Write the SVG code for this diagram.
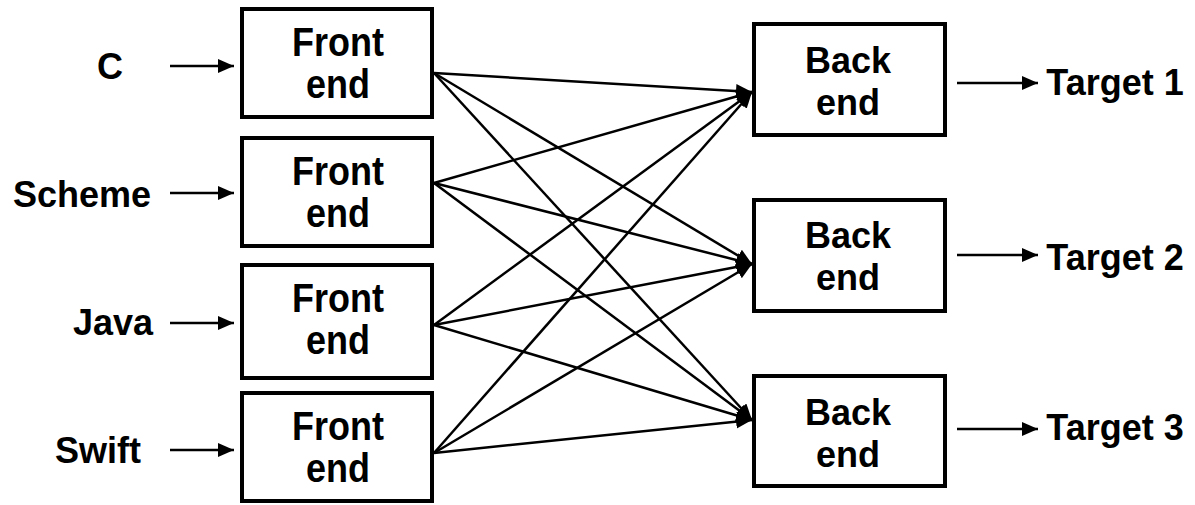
<svg xmlns="http://www.w3.org/2000/svg" width="1195" height="505" viewBox="0 0 1195 505">
<style>
.box{fill:#fff;stroke:#000;stroke-width:4}
.t{font-family:"Liberation Sans",Arial,sans-serif;font-weight:bold;font-size:36px;fill:#000;text-anchor:middle}
.bt{font-family:"Liberation Sans",Arial,sans-serif;font-weight:bold;font-size:36px;fill:#000;text-anchor:middle;transform-box:fill-box;transform-origin:center;transform:scaleY(1.12)}
.c{stroke:#000;stroke-width:2.5;fill:none}
</style>
<defs>
<marker id="ah" markerUnits="userSpaceOnUse" markerWidth="18" markerHeight="14" refX="16" refY="7" orient="auto">
<path d="M0,0 L16,7 L0,14 Z" fill="#000"/>
</marker>
</defs>
<rect width="1195" height="505" fill="#fff"/>
<g id="in-C"><text class="t" x="110" y="79">C</text></g>
<g id="in-Scheme"><text class="t" x="82" y="207">Scheme</text></g>
<g id="in-Java"><text class="t" x="113" y="335">Java</text></g>
<g id="in-Swift"><text class="t" x="98" y="463">Swift</text></g>
<g id="fe1"><rect class="box" x="242" y="9" width="190" height="108"/><text class="bt" x="338" y="54">Front</text><text class="bt" x="338" y="96">end</text></g>
<g id="fe2"><rect class="box" x="242" y="138" width="190" height="108"/><text class="bt" x="338" y="183">Front</text><text class="bt" x="338" y="225">end</text></g>
<g id="fe3"><rect class="box" x="242" y="265" width="190" height="113"/><text class="bt" x="338" y="310">Front</text><text class="bt" x="338" y="352">end</text></g>
<g id="fe4"><rect class="box" x="242" y="393" width="190" height="108"/><text class="bt" x="338" y="438">Front</text><text class="bt" x="338" y="480">end</text></g>
<g id="be1"><rect class="box" x="754" y="24" width="191" height="111"/><text class="t" x="848" y="73">Back</text><text class="t" x="848" y="115">end</text></g>
<g id="be2"><rect class="box" x="754" y="200" width="191" height="111"/><text class="t" x="848" y="248">Back</text><text class="t" x="848" y="290">end</text></g>
<g id="be3"><rect class="box" x="754" y="376" width="191" height="110"/><text class="t" x="848" y="425">Back</text><text class="t" x="848" y="467">end</text></g>
<g id="out-1"><text class="t" x="1115" y="95">Target 1</text></g>
<g id="out-2"><text class="t" x="1115" y="270">Target 2</text></g>
<g id="out-3"><text class="t" x="1115" y="440">Target 3</text></g>
<g id="connectors" class="c">
<line class="c" x1="170" y1="66" x2="234" y2="66" marker-end="url(#ah)"/>
<line class="c" x1="170" y1="193" x2="234" y2="193" marker-end="url(#ah)"/>
<line class="c" x1="170" y1="323" x2="234" y2="323" marker-end="url(#ah)"/>
<line class="c" x1="170" y1="450" x2="234" y2="450" marker-end="url(#ah)"/>
<line class="c" x1="957" y1="83" x2="1038" y2="83" marker-end="url(#ah)"/>
<line class="c" x1="957" y1="255" x2="1038" y2="255" marker-end="url(#ah)"/>
<line class="c" x1="957" y1="429" x2="1038" y2="429" marker-end="url(#ah)"/>
<line class="c" x1="434" y1="73" x2="752" y2="92" marker-end="url(#ah)"/>
<line class="c" x1="434" y1="73" x2="752" y2="264" marker-end="url(#ah)"/>
<line class="c" x1="434" y1="73" x2="752" y2="420" marker-end="url(#ah)"/>
<line class="c" x1="434" y1="183" x2="752" y2="92" marker-end="url(#ah)"/>
<line class="c" x1="434" y1="183" x2="752" y2="264" marker-end="url(#ah)"/>
<line class="c" x1="434" y1="183" x2="752" y2="420" marker-end="url(#ah)"/>
<line class="c" x1="434" y1="325" x2="752" y2="92" marker-end="url(#ah)"/>
<line class="c" x1="434" y1="325" x2="752" y2="264" marker-end="url(#ah)"/>
<line class="c" x1="434" y1="325" x2="752" y2="420" marker-end="url(#ah)"/>
<line class="c" x1="434" y1="453" x2="752" y2="92" marker-end="url(#ah)"/>
<line class="c" x1="434" y1="453" x2="752" y2="264" marker-end="url(#ah)"/>
<line class="c" x1="434" y1="453" x2="752" y2="420" marker-end="url(#ah)"/>
</g>
</svg>
